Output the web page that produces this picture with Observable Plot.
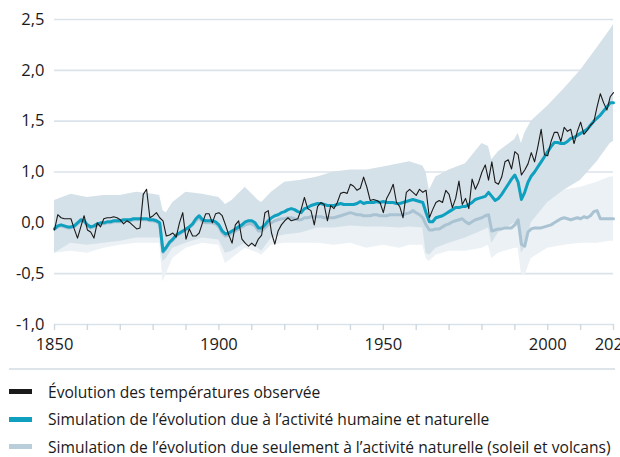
<!DOCTYPE html>
<html>
<head>
<meta charset="utf-8">
<script src="https://cdn.jsdelivr.net/npm/d3@7"></script>
<script src="https://cdn.jsdelivr.net/npm/@observablehq/plot@0.6"></script>
<style>
  html, body { margin: 0; padding: 0; background: #fff; }
  body { width: 620px; height: 457px; overflow: hidden; font-family: "Open Sans", sans-serif; color: #1a1a1a; }
  #chart svg { display: block; }
  #sep { margin: 0 5px 0 9px; height: 0; border-top: 2px solid #dde4ea; }
  #legend { padding-top: 8px; margin-left: 9px; }
  .row { display: flex; align-items: center; height: 27.5px; font-size: 15.6px; white-space: nowrap; }
  .sw { width: 23px; height: 5px; margin-right: 16px; flex: none; }
</style>
</head>
<body>
<div id="chart"></div>
<div id="sep"></div>
<div id="legend"></div>
<script>
// ---- data ----
const firstYear = 1850;

// Observed annual temperature change (°C, vs 1850-1900), 1850..2020
const observed = [
  -0.07, 0.08, 0.05, 0.04, 0.04, 0.04, -0.06, -0.15, -0.04, 0.07,
  -0.07, -0.09, -0.15, 0.00, -0.04, 0.04, 0.05, 0.05, 0.06, 0.05,
  0.03, -0.01, 0.02, 0.00, -0.03, -0.06, -0.05, 0.28, 0.33, 0.05,
  0.07, 0.10, 0.05, 0.02, -0.13, -0.12, -0.10, -0.14, 0.00, 0.10,
  -0.16, -0.06, -0.13, -0.13, -0.10, 0.00, 0.09, 0.09, 0.00, 0.09,
  0.10, 0.07, -0.02, -0.12, -0.20, -0.02, 0.02, -0.16, -0.20, -0.23,
  -0.20, -0.23, -0.16, -0.12, 0.10, 0.12, -0.10, -0.21, -0.08, -0.02,
  0.02, 0.05, 0.02, 0.03, 0.04, 0.13, 0.25, 0.14, 0.12, -0.02,
  0.16, 0.20, 0.18, 0.02, 0.17, 0.14, 0.20, 0.29, 0.30, 0.29,
  0.38, 0.36, 0.32, 0.34, 0.45, 0.35, 0.22, 0.23, 0.22, 0.20,
  0.10, 0.24, 0.30, 0.38, 0.20, 0.16, 0.05, 0.30, 0.33, 0.30,
  0.27, 0.33, 0.30, 0.32, 0.05, 0.13, 0.20, 0.22, 0.20, 0.32,
  0.28, 0.15, 0.24, 0.41, 0.18, 0.24, 0.14, 0.43, 0.33, 0.40,
  0.50, 0.57, 0.42, 0.60, 0.40, 0.38, 0.45, 0.60, 0.62, 0.53,
  0.70, 0.67, 0.47, 0.52, 0.58, 0.69, 0.60, 0.75, 0.92, 0.67,
  0.66, 0.80, 0.89, 0.89, 0.80, 0.94, 0.90, 0.92, 0.78, 0.90,
  0.99, 0.87, 0.91, 0.96, 0.99, 1.14, 1.27, 1.18, 1.11, 1.24,
  1.28
];

// Simulated: human + natural factors (multi-model mean), 1850..2020
const simHumanNatural = [
  -0.06, -0.03, -0.02, -0.03, -0.04, -0.04, -0.03, 0.00, 0.03, 0.02,
  -0.02, -0.04, -0.03, -0.01, 0.00, 0.00, 0.01, 0.01, 0.02, 0.02,
  0.02, 0.03, 0.03, 0.03, 0.04, 0.04, 0.04, 0.04, 0.04, 0.03,
  0.03, 0.02, 0.00, -0.28, -0.24, -0.19, -0.16, -0.12, -0.10, -0.08,
  -0.06, -0.04, -0.01, 0.04, 0.07, 0.03, 0.02, 0.02, 0.02, 0.01,
  -0.02, -0.08, -0.11, -0.10, -0.08, -0.06, -0.04, -0.02, 0.01, 0.02,
  0.02, 0.00, -0.05, -0.05, -0.02, 0.02, 0.05, 0.07, 0.08, 0.10,
  0.11, 0.13, 0.14, 0.13, 0.11, 0.10, 0.14, 0.15, 0.17, 0.18,
  0.19, 0.19, 0.18, 0.17, 0.17, 0.17, 0.18, 0.19, 0.18, 0.18,
  0.18, 0.18, 0.19, 0.21, 0.19, 0.20, 0.20, 0.20, 0.21, 0.20,
  0.21, 0.20, 0.20, 0.20, 0.19, 0.19, 0.20, 0.21, 0.22, 0.23,
  0.22, 0.21, 0.20, 0.10, 0.01, 0.01, 0.05, 0.06, 0.07, 0.09,
  0.11, 0.13, 0.15, 0.15, 0.16, 0.16, 0.18, 0.20, 0.23, 0.24,
  0.25, 0.26, 0.30, 0.26, 0.22, 0.24, 0.28, 0.33, 0.38, 0.43,
  0.47, 0.40, 0.23, 0.30, 0.40, 0.46, 0.50, 0.55, 0.60, 0.65,
  0.70, 0.75, 0.79, 0.79, 0.78, 0.78, 0.80, 0.83, 0.84, 0.86,
  0.88, 0.90, 0.92, 0.96, 1.00, 1.03, 1.06, 1.10, 1.14, 1.18,
  1.18
];

// Simulated: natural factors only (sun and volcanoes), 1850..2020
const simNatural = [
  -0.06, -0.04, -0.03, -0.04, -0.05, -0.05, -0.04, -0.01, 0.02, 0.01,
  -0.03, -0.05, -0.04, -0.02, -0.01, -0.01, 0.00, 0.00, 0.01, 0.01,
  0.01, 0.02, 0.02, 0.02, 0.03, 0.03, 0.03, 0.03, 0.03, 0.02,
  0.02, 0.01, -0.01, -0.29, -0.25, -0.20, -0.17, -0.13, -0.11, -0.09,
  -0.07, -0.05, -0.02, 0.02, 0.05, 0.01, 0.00, 0.00, 0.00, -0.01,
  -0.04, -0.10, -0.13, -0.12, -0.10, -0.08, -0.06, -0.04, -0.02, -0.01,
  -0.01, -0.03, -0.08, -0.08, -0.05, -0.02, 0.00, 0.02, 0.03, 0.04,
  0.04, 0.05, 0.05, 0.04, 0.03, 0.03, 0.05, 0.05, 0.06, 0.06,
  0.06, 0.06, 0.05, 0.05, 0.05, 0.05, 0.06, 0.07, 0.08, 0.09,
  0.10, 0.09, 0.08, 0.08, 0.07, 0.07, 0.07, 0.08, 0.08, 0.07,
  0.07, 0.07, 0.08, 0.08, 0.08, 0.08, 0.08, 0.09, 0.10, 0.12,
  0.10, 0.08, 0.05, -0.02, -0.07, -0.07, -0.06, -0.06, -0.04, -0.02,
  -0.01, 0.01, 0.02, 0.03, 0.04, 0.01, -0.01, 0.01, 0.03, 0.04,
  0.05, 0.07, 0.08, -0.08, -0.07, -0.06, -0.06, -0.05, -0.05, -0.05,
  -0.02, 0.03, -0.21, -0.23, -0.09, -0.06, -0.05, -0.05, -0.05, -0.04,
  -0.03, -0.02, 0.00, 0.02, 0.04, 0.05, 0.04, 0.03, 0.04, 0.05,
  0.04, 0.06, 0.05, 0.07, 0.11, 0.12, 0.04, 0.04, 0.04, 0.04,
  0.04
];

// Model ranges (shaded bands), read at selected years
const bandYears = [1850, 1855, 1860, 1865, 1870, 1875, 1880, 1882, 1883, 1884, 1886, 1890, 1895, 1900, 1902, 1904, 1908, 1912, 1913, 1916, 1920, 1925, 1930, 1935, 1940, 1945, 1950, 1955, 1958, 1962, 1963, 1964, 1966, 1970, 1975, 1980, 1982, 1983, 1985, 1990, 1991, 1992, 1993, 1995, 2000, 2005, 2010, 2015, 2019, 2020];
const humanNaturalLow  = [-0.30, -0.20, -0.22, -0.20, -0.18, -0.15, -0.15, -0.15, -0.38, -0.35, -0.25, -0.20, -0.15, -0.17, -0.30, -0.28, -0.20, -0.25, -0.28, -0.15, -0.12, -0.10, -0.05, -0.05, -0.03, -0.04, -0.04, -0.05, -0.04, -0.05, -0.30, -0.32, -0.25, -0.20, -0.15, -0.08, -0.05, -0.20, -0.10, 0.00, -0.05, -0.30, -0.25, 0.00, 0.20, 0.32, 0.42, 0.60, 0.78, 0.80];
const humanNaturalHigh = [0.22, 0.28, 0.25, 0.27, 0.27, 0.30, 0.28, 0.27, 0.12, 0.10, 0.20, 0.30, 0.28, 0.25, 0.18, 0.22, 0.35, 0.22, 0.20, 0.30, 0.40, 0.42, 0.45, 0.50, 0.52, 0.52, 0.55, 0.58, 0.60, 0.56, 0.50, 0.32, 0.45, 0.52, 0.58, 0.78, 0.75, 0.62, 0.70, 0.82, 0.88, 0.78, 0.88, 1.00, 1.15, 1.32, 1.50, 1.72, 1.90, 1.95];
const naturalLow  = [-0.30, -0.28, -0.30, -0.25, -0.22, -0.20, -0.20, -0.20, -0.58, -0.50, -0.35, -0.25, -0.20, -0.22, -0.40, -0.35, -0.25, -0.30, -0.32, -0.22, -0.20, -0.20, -0.20, -0.22, -0.20, -0.25, -0.22, -0.25, -0.22, -0.22, -0.35, -0.38, -0.32, -0.28, -0.28, -0.25, -0.22, -0.35, -0.30, -0.25, -0.25, -0.50, -0.52, -0.35, -0.25, -0.22, -0.20, -0.20, -0.18, -0.18];
const naturalHigh = [0.20, 0.22, 0.20, 0.22, 0.22, 0.25, 0.22, 0.22, 0.05, 0.05, 0.15, 0.22, 0.22, 0.20, 0.12, 0.15, 0.25, 0.18, 0.15, 0.22, 0.28, 0.28, 0.30, 0.32, 0.32, 0.32, 0.32, 0.33, 0.35, 0.35, 0.30, 0.20, 0.25, 0.30, 0.32, 0.35, 0.35, 0.25, 0.30, 0.35, 0.35, 0.20, 0.15, 0.25, 0.25, 0.32, 0.35, 0.40, 0.45, 0.45];

// Axis ticks and labels (as printed on the original chart)
const yTickValues = [-1, -0.5, 0, 0.5, 1, 1.5, 2];
const yTickLabels = ["-1,0", "-0,5", "0,0", "1,0", "1,5", "2,0", "2,5"];
const xTickYears = [1850, 1860, 1870, 1880, 1890, 1900, 1910, 1920, 1930, 1940, 1950, 1960, 1970, 1980, 1990, 2000, 2010, 2020];
const xLabelYears = [1850, 1900, 1950, 2000, 2020];

const legendLabels = [
  "Évolution des températures observée",
  "Simulation de l’évolution due à l’activité humaine et naturelle",
  "Simulation de l’évolution due seulement à l’activité naturelle (soleil et volcans)"
];
const colors = { observed: "#1a1a1a", humanNatural: "#0fa0c0", natural: "#aac3d3", bandHN: "#d5e1e9", bandNat: "#ebf1f5", grid: "#dbe3ea" };
const legendColors = [colors.observed, colors.humanNatural, "#b9cdda"];

// ---- build tables ----
const lines = observed.map((v, i) => ({
  year: firstYear + i, obs: v, hn: simHumanNatural[i], nat: simNatural[i]
}));
const bands = bandYears.map((year, i) => ({
  year, hnLow: humanNaturalLow[i], hnHigh: humanNaturalHigh[i], natLow: naturalLow[i], natHigh: naturalHigh[i]
}));

const chart = Plot.plot({
  width: 620,
  height: 368,
  marginLeft: 54,
  marginRight: 7,
  marginTop: 19,
  marginBottom: 44,
  style: { fontFamily: "'Open Sans', sans-serif", fontSize: "16.5px", color: "#1a1a1a", background: "#fff" },
  x: { domain: [1850, 2020] },
  y: { domain: [-1, 2] },
  marks: [
    Plot.ruleY(yTickValues, { stroke: colors.grid, strokeWidth: 1.6 }),
    Plot.areaY(bands, { x: "year", y1: "natLow", y2: "natHigh", fill: colors.bandNat }),
    Plot.areaY(bands, { x: "year", y1: "hnLow", y2: "hnHigh", fill: colors.bandHN }),
    Plot.lineY(lines, { x: "year", y: "nat", stroke: colors.natural, strokeWidth: 3 }),
    Plot.lineY(lines, { x: "year", y: "hn", stroke: colors.humanNatural, strokeWidth: 3 }),
    Plot.lineY(lines, { x: "year", y: "obs", stroke: colors.observed, strokeWidth: 1.1 }),
    Plot.axisY({ ticks: yTickValues, tickFormat: d => yTickLabels[yTickValues.indexOf(d)], tickSize: 0, tickPadding: 10, label: null }),
    Plot.axisX({ ticks: xTickYears, tickFormat: () => "", tickSize: 6, stroke: "#cfd8df", strokeWidth: 1.4, label: null }),
    Plot.axisX({ ticks: xLabelYears, tickFormat: d => String(d), tickSize: 0, tickPadding: 14, label: null })
  ]
});
document.getElementById("chart").appendChild(chart);

const legend = document.getElementById("legend");
legendLabels.forEach((label, i) => {
  const row = document.createElement("div");
  row.className = "row";
  const sw = document.createElement("span");
  sw.className = "sw";
  sw.style.background = legendColors[i];
  const tx = document.createElement("span");
  tx.textContent = label;
  row.appendChild(sw);
  row.appendChild(tx);
  legend.appendChild(row);
});
</script>
</body>
</html>
